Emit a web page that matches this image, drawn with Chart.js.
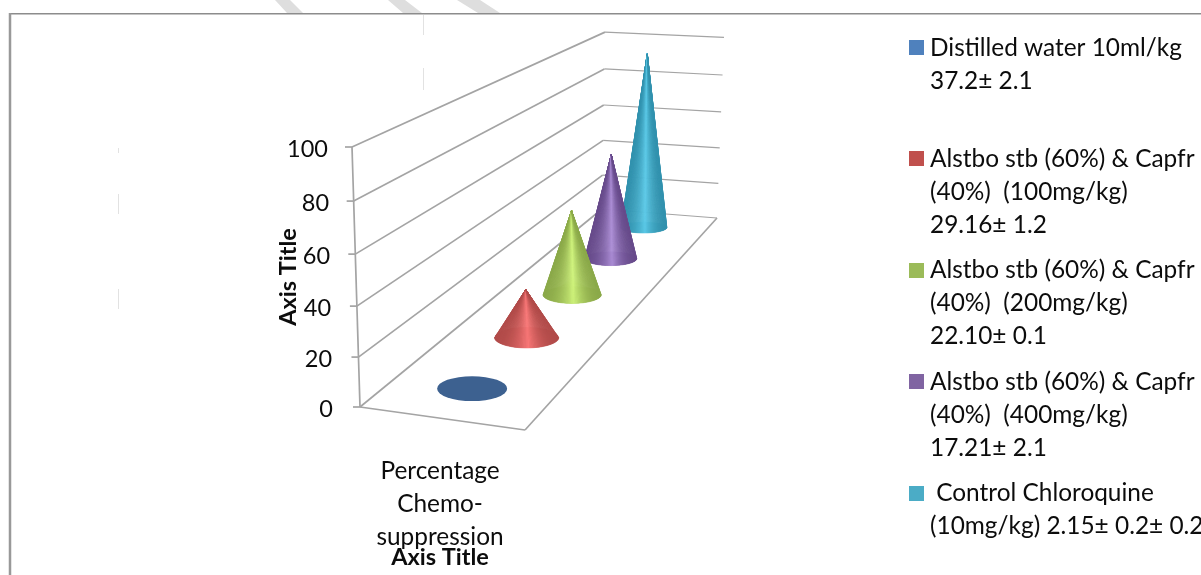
<!DOCTYPE html>
<html>
<head>
<meta charset="utf-8">
<style>
  html, body { margin: 0; padding: 0; background: #fff; overflow: hidden; }
  #wrap { position: relative; width: 1201px; height: 575px; }
</style>
<script src="https://cdn.jsdelivr.net/npm/chart.js@4/dist/chart.umd.js"></script>
</head>
<body>
<div id="wrap"><canvas id="chart" width="1201" height="575"></canvas></div>
<script>
// ---- chart data ----
const categories = [['Percentage', 'Chemo-', 'suppression']];
const yTicks = [0, 20, 40, 60, 80, 100];
const distilledWater = [0];
const dose100 = [21.6];
const dose200 = [40.6];
const dose400 = [53.7];
const chloroquine = [94.2];
const legendLines = [
  ['Distilled water 10ml/kg', '37.2\u00b1 2.1'],
  ['Alstbo stb (60%) & Capfr', '(40%)  (100mg/kg)', '29.16\u00b1 1.2'],
  ['Alstbo stb (60%) & Capfr', '(40%)  (200mg/kg)', '22.10\u00b1 0.1'],
  ['Alstbo stb (60%) & Capfr', '(40%)  (400mg/kg)', '17.21\u00b1 2.1'],
  [' Control Chloroquine', '(10mg/kg) 2.15\u00b1 0.2\u00b1 0.2']
];
const seriesValues = [distilledWater, dose100, dose200, dose400, chloroquine];

// ---- styling ----
const FONT = 'Lato, "Open Sans", sans-serif';
const INK = '#0c0c0c';
const swatchColors = ['#4f81bd', '#c0504d', '#9bbb59', '#8064a2', '#4bacc6'];
const coneEdge = [[61, 97, 144], [178, 76, 74], [140, 170, 74], [104, 76, 140], [50, 146, 174]];
const coneLight = [[61, 97, 144], [250, 120, 120], [208, 244, 124], [172, 142, 214], [92, 202, 232]];
const GRID = '#a4a4a4';

// ---- 3D box projection: floor quad as a homography, walls rise from it ----
const HOMO = { a: 141.67, b: 548.4, c: 360, d: 3.9, e: -91.6, f: 407, g: -0.04443, h: 0.50897 };
function floorPoint(u, t) {
  const w = HOMO.g * u + HOMO.h * t + 1;
  return { x: (HOMO.a * u + HOMO.b * t + HOMO.c) / w, y: (HOMO.d * u + HOMO.e * t + HOMO.f) / w };
}
// Vertical shrink with depth, and the slight lean of verticals across the box.
const heightScale = (u, t) => 1 / (1 - 0.03 * u + 0.47 * t);
const lean = (u, t) => (-8 + 11 * t + 4 * u * t) / 260;
function project(u, t, rise) {
  const p = floorPoint(u, t);
  return { x: p.x + lean(u, t) * rise, y: p.y - rise * heightScale(u, t) };
}

// Value axis with the mild foreshortening of the front edge of the 3D box.
class PerspectiveScale extends Chart.LinearScale {
  static id = 'perspectiveLinear';
  static defaults = Chart.LinearScale.defaults;
  getPixelForValue(value) {
    const x = (value - this.min) / (this.max - this.min);
    return this.getPixelForDecimal(x - 0.05 * x * (1 - x));
  }
  _computeLabelItems(chartArea) {
    const items = super._computeLabelItems(chartArea);
    // Labels follow the slanted front edge of the wall.
    items.forEach(item => {
      const tr = item.options.translation;
      item.options.translation = [tr[0] + (tr[1] - this.top) / this.height * 5, tr[1] + 2.5];
    });
    return items;
  }
}

// Colour of the cone surface at a position 0..1 across its width.
function coneShade(index, s) {
  const peak = 0.53;
  const k = s < peak ? s / peak : (1 - s) / (1 - peak);
  const mix = k * k;
  const c = coneEdge[index].map((v, i) => Math.round(v + (coneLight[index][i] - v) * mix));
  return 'rgb(' + c.join(',') + ')';
}

// Bar-like dataset drawn as a 3D cone standing on the box floor.
class ConeController extends Chart.BarController {
  static id = 'cone';
  static defaults = Chart.BarController.defaults;
  static overrides = Chart.BarController.overrides;
  draw() {
    const { ctx, chartArea, scales } = this.chart;
    const index = this.index;
    const count = this.chart.data.datasets.length;
    const value = this.getParsed(0).y;
    const rise = scales.y.getPixelForValue(0) - scales.y.getPixelForValue(value);
    const u = (scales.x.getPixelForValue(0) - chartArea.left) / chartArea.width;
    const t = (index + 0.5) / count;
    const base = floorPoint(u, t);
    const apex = project(u, t, rise);
    const rx = 36.5 - 15 * t;
    const ry = rx * (0.37 - 0.14 * t);
    ctx.save();
    ctx.fillStyle = coneShade(index, 0);
    ctx.beginPath();
    ctx.ellipse(base.x, base.y, rx, ry, 0, 0, Math.PI * 2);
    ctx.fill();
    if (rise > 0) {
      // Fan of facets from the apex around the near half of the base.
      const facets = 72;
      ctx.lineWidth = 0.6;
      for (let k = 0; k < facets; k++) {
        const a0 = Math.PI * (1 - k / facets);
        const a1 = Math.PI * (1 - (k + 1) / facets);
        const shade = coneShade(index, (1 + Math.cos((a0 + a1) / 2)) / 2);
        ctx.fillStyle = shade;
        ctx.strokeStyle = shade;
        ctx.beginPath();
        ctx.moveTo(apex.x, apex.y);
        ctx.lineTo(base.x + rx * Math.cos(a0), base.y + ry * Math.sin(a0));
        ctx.lineTo(base.x + rx * Math.cos(a1), base.y + ry * Math.sin(a1));
        ctx.closePath();
        ctx.fill();
        ctx.stroke();
      }
    }
    ctx.restore();
  }
}
Chart.register(PerspectiveScale, ConeController);

function line(ctx, x1, y1, x2, y2) {
  ctx.beginPath();
  ctx.moveTo(x1, y1);
  ctx.lineTo(x2, y2);
  ctx.stroke();
}

// Page frame and the pale marks around it.
const pageFrame = {
  id: 'pageFrame',
  beforeDraw(chart) {
    const ctx = chart.ctx;
    ctx.save();
    ctx.fillStyle = '#dedede';
    [[275, 290, 303, 287], [388, 405, 422, 403], [457, 480, 500, 478]].forEach(s => {
      ctx.beginPath();
      ctx.moveTo(s[0], 0);
      ctx.lineTo(s[1], 0);
      ctx.lineTo(s[2], 13);
      ctx.lineTo(s[3], 13);
      ctx.closePath();
      ctx.fill();
    });
    ctx.strokeStyle = '#e2e2e2';
    ctx.lineWidth = 1;
    [[118.5, 148, 153], [118.5, 194, 214], [118.5, 289, 309], [423.5, 15, 35], [423.5, 68, 90]].forEach(s => {
      line(ctx, s[0], s[1], s[0], s[2]);
    });
    ctx.strokeStyle = '#8c8c8c';
    ctx.lineWidth = 1.5;
    line(ctx, 9, 13.7, 1201, 13.7);
    ctx.lineWidth = 2.5;
    ctx.strokeStyle = '#999';
    line(ctx, 10, 13, 10, 575);
    ctx.restore();
  }
};

// Walls and floor of the 3D box, with gridlines taken from the value scale.
const box3d = {
  id: 'box3d',
  beforeDatasetsDraw(chart) {
    const { ctx, scales } = chart;
    const y = scales.y;
    const zero = y.getPixelForValue(0);
    ctx.save();
    ctx.strokeStyle = GRID;
    y.ticks.forEach(tick => {
      const rise = zero - y.getPixelForValue(tick.value);
      const front = project(0, 0, rise);
      const back = project(0, 1, rise);
      const right = project(1, 1, rise);
      ctx.lineWidth = 1.7;
      line(ctx, front.x - 7, front.y, front.x, front.y);
      line(ctx, front.x, front.y, back.x, back.y);
      ctx.lineWidth = 1.2;
      line(ctx, back.x, back.y, right.x, right.y);
    });
    ctx.lineWidth = 1.7;
    const top = project(0, 0, zero - y.getPixelForValue(100));
    const f0 = floorPoint(0, 0);
    const f1 = floorPoint(1, 0);
    const f2 = floorPoint(1, 1);
    line(ctx, top.x, top.y, f0.x, f0.y);
    line(ctx, f0.x, f0.y, f1.x, f1.y);
    line(ctx, f1.x, f1.y, f2.x, f2.y);
    ctx.restore();
  }
};

// Multi-line key to the right of the plot.
const sideLegend = {
  id: 'sideLegend',
  afterDraw(chart) {
    const ctx = chart.ctx;
    ctx.save();
    ctx.font = '24.4px ' + FONT;
    ctx.textBaseline = 'middle';
    ctx.textAlign = 'left';
    legendLines.forEach((lines, i) => {
      const top = 47 + i * 111.4;
      ctx.fillStyle = swatchColors[i];
      ctx.fillRect(909, Math.round(top - 7), 15, 15);
      ctx.fillStyle = INK;
      lines.forEach((text, j) => ctx.fillText(text, 930, top + 0.7 + j * 33));
    });
    ctx.restore();
  }
};

new Chart(document.getElementById('chart'), {
  type: 'cone',
  data: {
    labels: categories,
    datasets: seriesValues.map((values, i) => ({
      label: legendLines[i].join(' ').trim(),
      data: values,
      clip: false,
      backgroundColor: swatchColors[i]
    }))
  },
  options: {
    responsive: false,
    animation: false,
    layout: { padding: { left: 274, right: 673, top: 147, bottom: 3 } },
    plugins: { legend: { display: false }, tooltip: { enabled: false } },
    scales: {
      x: {
        type: 'category',
        offset: true,
        grid: { display: false, drawTicks: false },
        border: { display: false },
        ticks: {
          color: INK,
          padding: 48,
          maxRotation: 0,
          font: { family: FONT, size: 24.4, lineHeight: 1.34 }
        },
        title: {
          display: true,
          text: 'Axis Title',
          color: INK,
          padding: { top: 0, bottom: 0 },
          font: { family: FONT, size: 23.5, weight: 'bold', lineHeight: 1.2 }
        },
        afterFit(scale) { scale.height = 165; }
      },
      y: {
        type: 'perspectiveLinear',
        min: 0,
        max: 100,
        grid: { display: false, drawTicks: false },
        border: { display: false },
        ticks: {
          color: INK,
          padding: 24,
          stepSize: 20,
          callback: v => (yTicks.includes(v) ? String(v) : ''),
          font: { family: FONT, size: 23.5 }
        },
        title: {
          display: true,
          text: 'Axis Title',
          color: INK,
          padding: { top: 0, bottom: 0 },
          font: { family: FONT, size: 23.5, weight: 'bold', lineHeight: 1.2 }
        },
        afterFit(scale) { scale.width = 78; }
      }
    }
  },
  plugins: [pageFrame, box3d, sideLegend]
});
</script>
</body>
</html>
